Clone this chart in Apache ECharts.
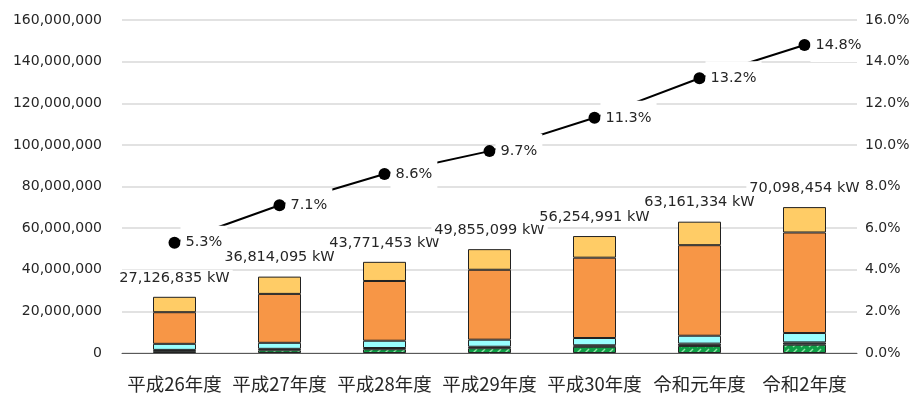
<!DOCTYPE html>
<html><head><meta charset="utf-8">
<script src="https://cdn.jsdelivr.net/npm/echarts@6/dist/echarts.min.js"></script>
<style>html,body{margin:0;padding:0;background:#fff}#c{width:921px;height:407px}</style>
</head><body><div id="c"></div>
<script>
const categories = ['平成26年度','平成27年度','平成28年度','平成29年度','平成30年度','令和元年度','令和2年度'];
const totals = [27126835, 36814095, 43771453, 49855099, 56254991, 63161334, 70098454];
const greenVals  = [900000, 1300000, 1800000, 2300000, 3000000, 3400000, 4000000];
const darkVals   = [600000, 700000, 600000, 700000, 700000, 1100000, 1100000];
const cyanVals   = [2900000, 2900000, 3500000, 3400000, 3500000, 3800000, 4500000];
const orangeVals = [15200000, 23500000, 28700000, 33600000, 38600000, 43500000, 48300000];
const yellowVals = [7400000, 8300000, 9200000, 9900000, 10400000, 11300000, 12200000];
const shares = [5.3, 7.1, 8.6, 9.7, 11.3, 13.2, 14.8];
const leftTicks = [0, 20000000, 40000000, 60000000, 80000000, 100000000, 120000000, 140000000, 160000000];
const rightTicks = [0, 2, 4, 6, 8, 10, 12, 14, 16];

function makePattern(bg, fg) {
  const c = document.createElement('canvas');
  c.width = 8; c.height = 6;
  const g = c.getContext('2d');
  g.fillStyle = bg; g.fillRect(0, 0, 8, 6);
  g.strokeStyle = fg; g.lineWidth = 1.5;
  g.beginPath(); g.moveTo(1, 5); g.lineTo(5, 1); g.stroke();
  return c;
}
const greenPat = makePattern('#0f9e46', '#8fe6a8');

const numFont = 'DejaVu Sans';
const txt = '#262626';
const border = { borderColor: '#222222', borderWidth: 1 };

const chart = echarts.init(document.getElementById('c'));
chart.setOption({
  animation: false,
  grid: { left: 122, right: 64, top: 20, bottom: 54 },
  xAxis: {
    type: 'category', data: categories,
    axisLine: { lineStyle: { color: '#595959', width: 1 } },
    axisTick: { show: false },
    axisLabel: { fontFamily: 'Noto Sans CJK JP', fontSize: 18.5, color: txt, margin: 22, interval: 0 }
  },
  yAxis: [{
    type: 'value', min: leftTicks[0], max: leftTicks[leftTicks.length - 1], interval: leftTicks[1] - leftTicks[0],
    axisLine: { show: false }, axisTick: { show: false },
    splitLine: { lineStyle: { color: '#d9d9d9', width: 1.5 } },
    axisLabel: { fontFamily: numFont, fontSize: 14, color: txt, margin: 20,
      formatter: v => v.toLocaleString('en-US') }
  }, {
    type: 'value', min: rightTicks[0], max: rightTicks[rightTicks.length - 1], interval: rightTicks[1] - rightTicks[0],
    axisLine: { show: false }, axisTick: { show: false }, splitLine: { show: false },
    axisLabel: { fontFamily: numFont, fontSize: 14, color: txt, margin: 8,
      formatter: v => v.toFixed(1) + '%' }
  }],
  series: [
    { type: 'bar', stack: 's', data: greenVals, barWidth: 43, z: 2,
      itemStyle: Object.assign({ color: { image: greenPat, repeat: 'repeat' } }, border) },
    { type: 'bar', stack: 's', data: darkVals, z: 2,
      itemStyle: Object.assign({ color: '#3c4a4a' }, border) },
    { type: 'bar', stack: 's', data: cyanVals, z: 2,
      itemStyle: Object.assign({ color: '#99ffff' }, border) },
    { type: 'bar', stack: 's', data: orangeVals, z: 2,
      itemStyle: Object.assign({ color: '#f79646' }, border) },
    { type: 'bar', stack: 's', data: yellowVals, z: 2,
      itemStyle: Object.assign({ color: '#ffcc66' }, border),
      label: { show: true, position: 'top', distance: 11, fontFamily: numFont, fontSize: 14.5, color: txt,
        backgroundColor: '#fff', padding: [0, 3], lineHeight: 16,
        formatter: p => totals[p.dataIndex].toLocaleString('en-US') + ' kW' } },
    { type: 'line', yAxisIndex: 1, data: shares, z: 10,
      lineStyle: { color: '#000', width: 2 },
      symbol: 'circle', symbolSize: 12, itemStyle: { color: '#000' },
      label: { show: true, position: 'right', distance: 0, fontFamily: numFont, fontSize: 14.5, color: txt,
        backgroundColor: '#fff', padding: [9, 5, 9, 5], lineHeight: 16,
        formatter: p => p.value.toFixed(1) + '%' } }
  ]
});
</script></body></html>
